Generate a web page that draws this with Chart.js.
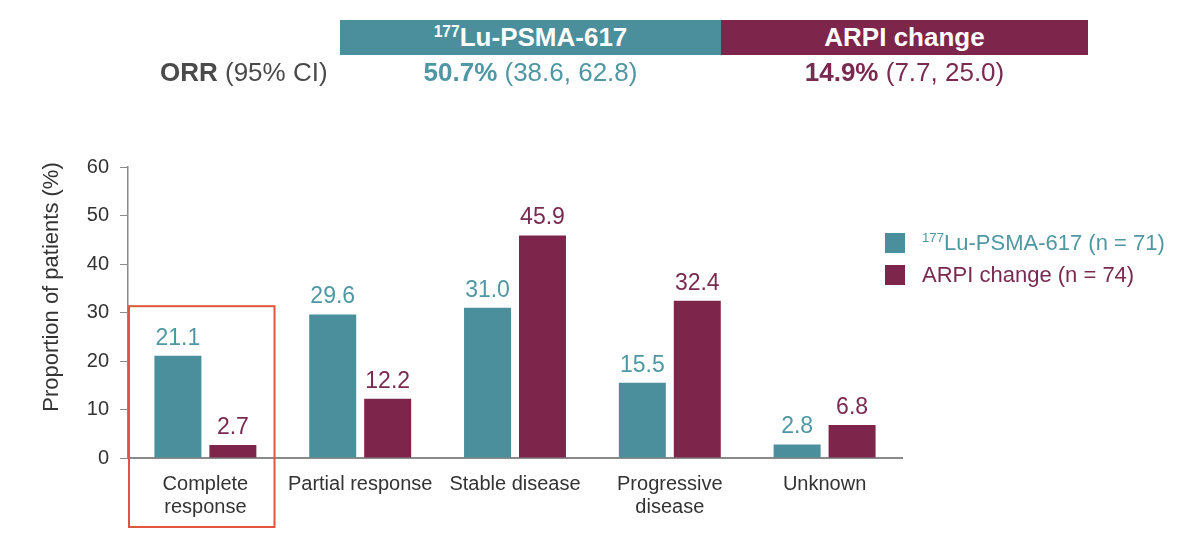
<!DOCTYPE html>
<html lang="en">

<head>
    <meta charset="UTF-8">
    <title>ORR by response category</title>
    <script src="https://cdn.jsdelivr.net/npm/chart.js"></script>
    <style>
        body {
            margin: 0;
            width: 1200px;
            height: 540px;
            position: relative;
            background: #fff;
            font-family: "Liberation Sans", Arial, sans-serif;
            overflow: hidden;
        }

        #chartBox {
            position: absolute;
            left: 0;
            top: 0;
            width: 1200px;
            height: 540px;
        }

        .armBox {
            position: absolute;
            top: 20px;
            height: 35px;
            display: flex;
            align-items: center;
            justify-content: center;
            color: #fff;
            font-weight: bold;
            font-size: 26px;
        }

        .armBox sup, .legendRow sup {
            font-size: 0.6em;
            vertical-align: 0.6em;
            line-height: 0;
        }

        .orrRow {
            position: absolute;
            top: 57px;
            font-size: 26px;
            line-height: 30px;
            white-space: nowrap;
        }

        .legendRow {
            position: absolute;
            left: 885px;
            height: 20px;
            display: flex;
            align-items: center;
            font-size: 22px;
            white-space: nowrap;
        }

        .legendRow span.swatch {
            display: inline-block;
            width: 20px;
            height: 20px;
            margin-right: 17px;
        }
    </style>
</head>

<body>
    <div id="chartBox"><canvas id="orrChart" width="1200" height="540"></canvas></div>

    <div class="armBox" id="luBox" style="left:340px;width:381px;"><span><sup>177</sup>Lu-PSMA-617</span></div>
    <div class="armBox" id="arpiBox" style="left:721px;width:367px;">ARPI change</div>

    <div class="orrRow" style="left:160px;color:#4a4a4a;"><b>ORR</b> (95% CI)</div>
    <div class="orrRow" id="luOrr" style="left:340px;width:381px;text-align:center;"></div>
    <div class="orrRow" id="arpiOrr" style="left:721px;width:367px;text-align:center;"></div>

    <div class="legendRow" id="legLu" style="top:233px;"></div>
    <div class="legendRow" id="legArpi" style="top:265px;"></div>

    <script>
        // data
        const categories = [['Complete', 'response'], 'Partial response', 'Stable disease', ['Progressive', 'disease'], 'Unknown'];
        const luValues = [21.1, 29.6, 31.0, 15.5, 2.8];
        const arpiValues = [2.7, 12.2, 45.9, 32.4, 6.8];
        const yTicks = [0, 10, 20, 30, 40, 50, 60];

        const luName = '177Lu-PSMA-617';
        const arpiName = 'ARPI change';
        const luN = 71;
        const arpiN = 74;
        const luOrr = [50.7, 38.6, 62.8];   // estimate, low, high
        const arpiOrr = [14.9, 7.7, 25.0];

        // colours
        const tealBar = '#4a8f9b';
        const maroonBar = '#7d254a';
        const tealText = '#4f98a3';
        const maroonText = '#7a2a50';
        const grayText = '#333333';

        // header + legend text
        document.getElementById('luBox').style.background = tealBar;
        document.getElementById('arpiBox').style.background = maroonBar;
        function orrHtml(v, color) {
            return '<span style="color:' + color + '"><b>' + v[0].toFixed(1) + '%</b> (' +
                v[1].toFixed(1) + ', ' + v[2].toFixed(1) + ')</span>';
        }
        document.getElementById('luOrr').innerHTML = orrHtml(luOrr, tealText);
        document.getElementById('arpiOrr').innerHTML = orrHtml(arpiOrr, maroonText);
        document.getElementById('legLu').innerHTML = '<span class="swatch" style="background:' + tealBar + '"></span>' +
            '<span style="color:' + tealText + '"><sup>177</sup>Lu-PSMA-617 (n = ' + luN + ')</span>';
        document.getElementById('legArpi').innerHTML = '<span class="swatch" style="background:' + maroonBar + '"></span>' +
            '<span style="color:' + maroonText + '">' + arpiName + ' (n = ' + arpiN + ')</span>';

        // value labels above bars
        const valueLabels = {
            id: 'valueLabels',
            afterDatasetsDraw(chart) {
                const ctx = chart.ctx;
                ctx.save();
                ctx.font = '23px "Liberation Sans", Arial, sans-serif';
                ctx.textAlign = 'center';
                ctx.textBaseline = 'alphabetic';
                chart.data.datasets.forEach((ds, i) => {
                    chart.getDatasetMeta(i).data.forEach((bar, j) => {
                        ctx.fillStyle = ds.labelColor;
                        ctx.fillText(ds.data[j].toFixed(1), bar.x, bar.y - 11);
                    });
                });
                ctx.restore();
            }
        };

        // red box round the first category + rotated y title
        const extras = {
            id: 'extras',
            afterDraw(chart) {
                const ctx = chart.ctx;
                const x = chart.scales.x;
                const y = chart.scales.y;
                const catW = (x.right - x.left) / categories.length;
                const left = x.getPixelForValue(0) - catW / 2 + 1;
                const right = left + catW * 0.94;
                const top = y.getPixelForValue(31.3);
                ctx.save();
                ctx.strokeStyle = '#e0553b';
                ctx.lineWidth = 2;
                ctx.strokeRect(left, top, right - left, chart.height - 13 - top);

                ctx.translate(52, 287);
                ctx.rotate(-Math.PI / 2);
                ctx.font = '22px "Liberation Sans", Arial, sans-serif';
                ctx.fillStyle = grayText;
                ctx.textAlign = 'center';
                ctx.textBaseline = 'middle';
                ctx.fillText('Proportion of patients (%)', 0, 0);
                ctx.restore();
            }
        };

        const ctx = document.getElementById('orrChart').getContext('2d');
        const orrChart = new Chart(ctx, {
            type: 'bar',
            data: {
                labels: categories,
                datasets: [{
                    label: luName,
                    data: luValues,
                    backgroundColor: tealBar,
                    labelColor: tealText
                }, {
                    label: arpiName,
                    data: arpiValues,
                    backgroundColor: maroonBar,
                    labelColor: maroonText
                }]
            },
            options: {
                responsive: false,
                animation: false,
                categoryPercentage: 0.71,
                barPercentage: 0.855,
                layout: {
                    padding: { top: 167, right: 298, left: 0, bottom: 0 }
                },
                scales: {
                    x: {
                        grid: { display: false },
                        border: { display: true, color: '#8a8a8a', width: 2 },
                        ticks: {
                            color: grayText,
                            padding: 7,
                            maxRotation: 0,
                            font: { family: '"Liberation Sans", Arial, sans-serif', size: 20, lineHeight: 1.15 }
                        },
                        afterFit(scale) { scale.height = 82; }
                    },
                    y: {
                        min: 0,
                        max: 60,
                        afterBuildTicks(scale) { scale.ticks = yTicks.map(v => ({ value: v })); },
                        grid: {
                            drawOnChartArea: false,
                            drawTicks: true,
                            tickLength: 8,
                            color: '#8a8a8a'
                        },
                        border: { display: true, color: '#8a8a8a', width: 1.5 },
                        ticks: {
                            color: grayText,
                            padding: 11,
                            font: { family: '"Liberation Sans", Arial, sans-serif', size: 20 }
                        },
                        afterFit(scale) { scale.width = 128; }
                    }
                },
                plugins: {
                    legend: { display: false },
                    tooltip: { enabled: false }
                }
            },
            plugins: [valueLabels, extras]
        });
    </script>
</body>

</html>
